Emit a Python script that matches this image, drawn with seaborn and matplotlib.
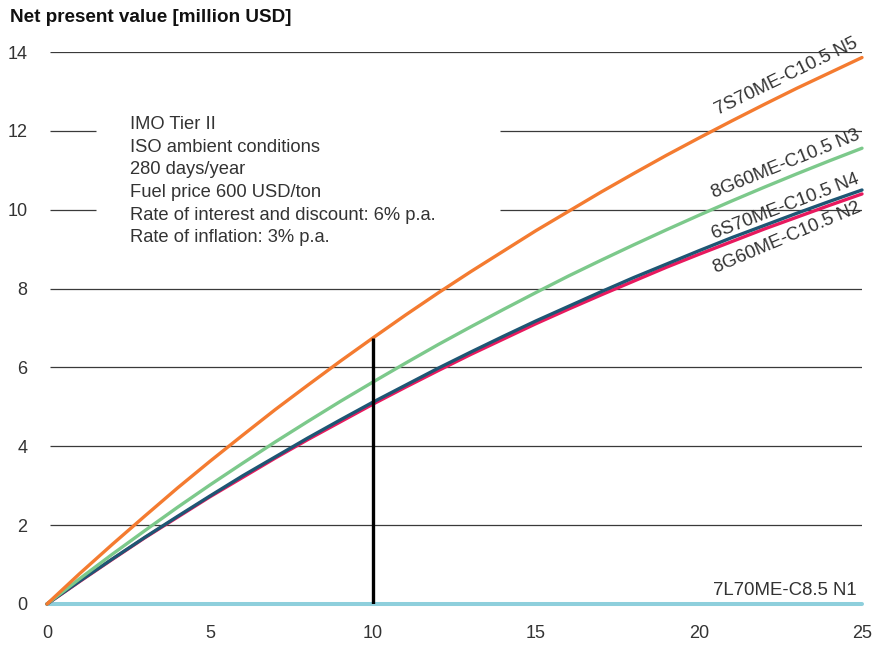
"""
Net present value of fuel savings per engine variant, 0-25 years.
"""

import matplotlib
matplotlib.use("Agg")
import matplotlib.pyplot as plt
import seaborn as sns
import pandas as pd

# Data (million USD per year of operation)
years = list(range(0, 26))
npv_n5 = [0, 0.77, 1.51, 2.23, 2.94, 3.62, 4.28, 4.93, 5.55, 6.16, 6.75, 7.33, 7.89,
          8.43, 8.95, 9.47, 9.96, 10.45, 10.92, 11.38, 11.82, 12.25, 12.67, 13.08, 13.47, 13.86]
npv_n3 = [0, 0.64, 1.26, 1.86, 2.45, 3.02, 3.57, 4.11, 4.63, 5.14, 5.63, 6.11, 6.58,
          7.03, 7.47, 7.90, 8.32, 8.72, 9.11, 9.49, 9.86, 10.22, 10.57, 10.91, 11.24, 11.56]
npv_n4 = [0, 0.58, 1.14, 1.69, 2.22, 2.74, 3.25, 3.73, 4.21, 4.67, 5.12, 5.55, 5.98,
          6.39, 6.79, 7.18, 7.55, 7.92, 8.28, 8.62, 8.96, 9.29, 9.60, 9.91, 10.21, 10.50]
npv_n2 = [0, 0.57, 1.13, 1.68, 2.20, 2.72, 3.21, 3.70, 4.17, 4.62, 5.07, 5.50, 5.92,
          6.33, 6.72, 7.11, 7.48, 7.84, 8.19, 8.54, 8.87, 9.19, 9.51, 9.81, 10.11, 10.40]
npv_n1 = [0] * 26

series_names = ["7L70ME-C8.5 N1", "8G60ME-C10.5 N2", "6S70ME-C10.5 N4",
                "8G60ME-C10.5 N3", "7S70ME-C10.5 N5"]
series_values = [npv_n1, npv_n2, npv_n4, npv_n3, npv_n5]
y_ticks = [0, 2, 4, 6, 8, 10, 12, 14]
x_ticks = [0, 5, 10, 15, 20, 25]

notes = ["IMO Tier II", "ISO ambient conditions", "280 days/year",
         "Fuel price 600 USD/ton", "Rate of interest and discount: 6% p.a.",
         "Rate of inflation: 3% p.a."]

colors = {
    "7L70ME-C8.5 N1": "#8ECFDC",
    "8G60ME-C10.5 N2": "#E8195E",
    "6S70ME-C10.5 N4": "#1E5674",
    "8G60ME-C10.5 N3": "#7CC98B",
    "7S70ME-C10.5 N5": "#F47B30",
}

rows = []
for name, vals in zip(series_names, series_values):
    for x, v in zip(years, vals):
        rows.append({"year": x, "npv": v, "engine": name})
df = pd.DataFrame(rows)

sns.set_theme(style="white")
plt.rcParams["font.family"] = ["Liberation Sans", "DejaVu Sans"]

fig = plt.figure(figsize=(8.87, 6.46), dpi=100)
ax = fig.add_axes([47 / 887, 42 / 646, 815 / 887, 552 / 646])

# Grid lines (broken where the notes sit)
grid_kw = dict(color="#3a3a3a", linewidth=0.9, zorder=1)
for yv in y_ticks[1:]:
    if yv in (10, 12):
        ax.hlines(yv, 0.1, 1.5, **grid_kw)
        ax.hlines(yv, 13.9, 25, **grid_kw)
    else:
        ax.hlines(yv, 0.1, 25, **grid_kw)

sns.lineplot(data=df, x="year", y="npv", hue="engine", hue_order=series_names,
             palette=colors, linewidth=2.4, legend=False, ax=ax, zorder=3)
for line in ax.lines:
    line.set_clip_on(False)
ax.lines[0].set_linewidth(2.9)

# Vertical marker at 10 years
ax.vlines(10, 0, npv_n5[10], color="black", linewidth=2.4, zorder=4)

ax.set_xlim(0, 25)
ax.set_ylim(0, 14)
ax.set_xticks(x_ticks)
ax.set_yticks(y_ticks)
ax.set_xlabel("")
ax.set_ylabel("")
ax.tick_params(axis="y", pad=14, labelsize=13, labelcolor="#333333", length=0)
ax.tick_params(axis="x", pad=15, labelsize=13, labelcolor="#333333", length=0)
sns.despine(ax=ax, left=True, bottom=True)

# Line labels
label_kw = dict(ha="right", va="bottom", rotation_mode="anchor", fontsize=13.4,
                color="#333333")
ax.text(24.95, 14.05, "7S70ME-C10.5 N5", rotation=26, **label_kw)
ax.text(25.0, 11.72, "8G60ME-C10.5 N3", rotation=22, **label_kw)
ax.text(25.0, 10.58, "6S70ME-C10.5 N4", rotation=21, **label_kw)
ax.text(25.05, 9.87, "8G60ME-C10.5 N2", rotation=23, **label_kw)
ax.text(24.85, 0.12, "7L70ME-C8.5 N1", ha="right", va="bottom", fontsize=13.4,
        color="#333333")

ax.text(2.55, 12.38, "\n".join(notes), ha="left", va="top", fontsize=13.2,
        color="#333333", linespacing=1.44)

fig.text(10 / 887, 1 - 18 / 646, "Net present value [million USD]", ha="left",
         va="center", fontsize=13.6, fontweight="bold", color="#111111")

plt.savefig("out.png", dpi=100)
plt.close()
